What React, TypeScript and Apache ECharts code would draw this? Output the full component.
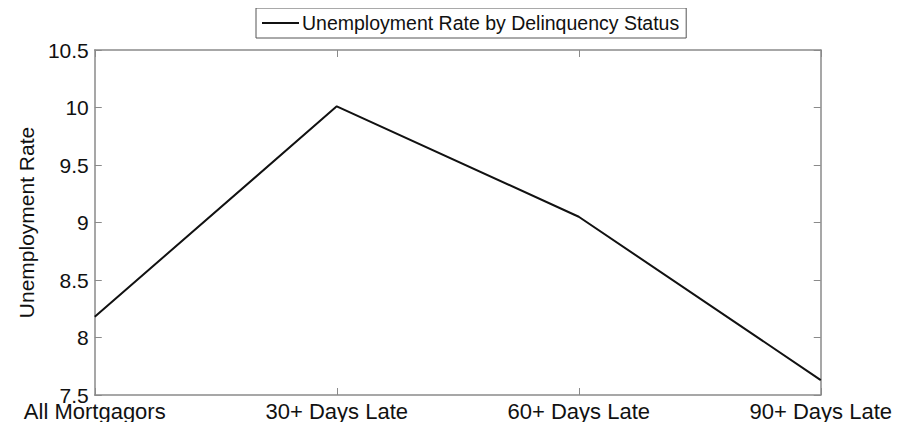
import React, { useEffect, useRef } from "react";
import * as echarts from "echarts";

const categories = ["All Mortgagors", "30+ Days Late", "60+ Days Late", "90+ Days Late"];
const unemploymentRate = [8.18, 10.01, 9.05, 7.63];
const seriesName = "Unemployment Rate by Delinquency Status";
const yAxisName = "Unemployment Rate";

const FONT = "'Liberation Sans', Arial, Helvetica, sans-serif";
const AXIS_GRAY = "#8a8a8a";

export default function App() {
  const ref = useRef<HTMLDivElement>(null);
  useEffect(() => {
    if (!ref.current) return;
    const chart = echarts.init(ref.current, undefined, { renderer: "svg" });
    chart.setOption({
      animation: false,
      backgroundColor: "#ffffff",
      textStyle: { fontFamily: FONT },
      grid: { left: 75, right: 66, top: 42, bottom: 25, containLabel: false },
      legend: {
        top: 0,
        left: 248,
        data: [{ name: seriesName, icon: "rect" }],
        itemWidth: 37,
        itemHeight: 2,
        itemGap: 6,
        padding: [5, 7, 5, 6],
        borderColor: "#555",
        borderWidth: 1,
        textStyle: { fontFamily: FONT, fontSize: 19.5, color: "#111", padding: [0, 0, 0, -2] },
      },
      xAxis: [
        {
          type: "category",
          data: categories,
          boundaryGap: false,
          position: "bottom",
          axisLine: { show: true, lineStyle: { color: AXIS_GRAY, width: 1.5 } },
          axisTick: { show: true, inside: true, length: 7, lineStyle: { color: AXIS_GRAY } },
          axisLabel: { color: "#111", fontSize: 22, fontFamily: FONT, margin: 5, interval: 0 },
          splitLine: { show: false },
        },
        {
          type: "category",
          data: categories,
          boundaryGap: false,
          position: "top",
          axisLine: { show: true, lineStyle: { color: AXIS_GRAY, width: 1.5 } },
          axisTick: { show: true, inside: true, length: 7, lineStyle: { color: AXIS_GRAY } },
          axisLabel: { show: false },
          splitLine: { show: false },
        },
      ],
      yAxis: [
        {
          type: "value",
          min: 7.5,
          max: 10.5,
          interval: 0.5,
          position: "left",
          name: yAxisName,
          nameLocation: "middle",
          nameGap: 52,
          nameTextStyle: { color: "#111", fontSize: 21, fontFamily: FONT },
          axisLine: { show: true, lineStyle: { color: AXIS_GRAY, width: 1.5 } },
          axisTick: { show: true, inside: true, length: 7, lineStyle: { color: AXIS_GRAY } },
          axisLabel: { color: "#111", fontSize: 21, fontFamily: FONT, margin: 6 },
          splitLine: { show: false },
        },
        {
          type: "value",
          min: 7.5,
          max: 10.5,
          interval: 0.5,
          position: "right",
          axisLine: { show: true, lineStyle: { color: AXIS_GRAY, width: 1.5 } },
          axisTick: { show: true, inside: true, length: 7, lineStyle: { color: AXIS_GRAY } },
          axisLabel: { show: false },
          splitLine: { show: false },
        },
      ],
      series: [
        {
          name: seriesName,
          type: "line",
          data: unemploymentRate,
          xAxisIndex: 0,
          yAxisIndex: 0,
          symbol: "none",
          lineStyle: { color: "#111", width: 2 },
          itemStyle: { color: "#111" },
        },
      ],
    });
    return () => chart.dispose();
  }, []);
  return <div ref={ref} style={{ width: 887, height: 414 }} />;
}
